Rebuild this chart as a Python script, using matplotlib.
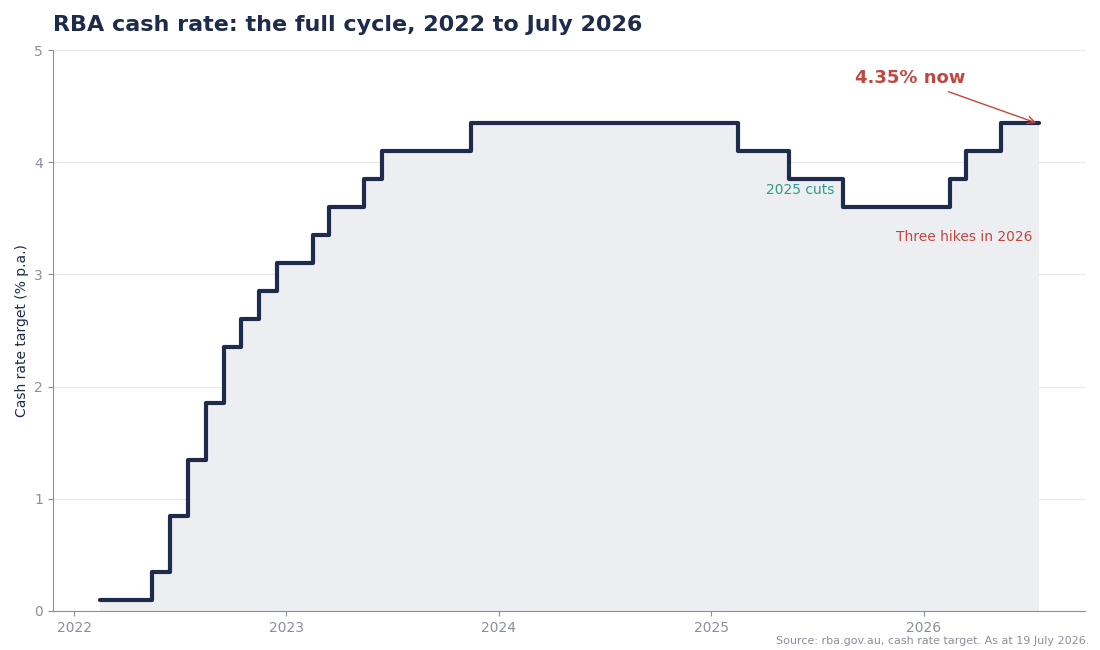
import numpy as np
import pandas as pd
import matplotlib.pyplot as plt
import matplotlib.dates as mdates

# RBA cash rate decisions (mid-month) and target rate, % p.a.
dates = ['2022-02-15', '2022-05-15', '2022-06-15', '2022-07-15', '2022-08-15',
         '2022-09-15', '2022-10-15', '2022-11-15', '2022-12-15', '2023-02-15',
         '2023-03-15', '2023-05-15', '2023-06-15', '2023-11-15', '2025-02-15',
         '2025-05-15', '2025-08-15', '2026-02-15', '2026-03-15', '2026-05-15',
         '2026-07-19']
rates = [0.10, 0.35, 0.85, 1.35, 1.85, 2.35, 2.60, 2.85, 3.10, 3.35,
         3.60, 3.85, 4.10, 4.35, 4.10, 3.85, 3.60, 3.85, 4.10, 4.35, 4.35]
years = [2022, 2023, 2024, 2025, 2026]

navy = '#1e2b4a'
grey = '#8a8f9c'
red = '#c0473f'
teal = '#2e9c8a'

d = pd.to_datetime(dates)
fig = plt.figure(figsize=(11, 6.5), dpi=100)
ax = fig.add_axes([0.048, 0.06, 0.938, 0.863])

ax.fill_between(d, rates, 0, step='post', color='#eceef1', lw=0)
ax.step(d, rates, where='post', color=navy, lw=3, solid_joinstyle='round',
        solid_capstyle='round')

ax.set_ylim(0, 5)
ax.set_xlim(pd.Timestamp('2021-11-25'), pd.Timestamp('2026-10-05'))
ax.set_xticks([pd.Timestamp(f'{y}-01-01') for y in years])
ax.xaxis.set_major_formatter(mdates.DateFormatter('%Y'))
ax.set_yticks(range(0, 6))
ax.grid(axis='y', color='#e6e7ea', lw=0.8)
ax.set_axisbelow(True)
for s in ['top', 'right']:
    ax.spines[s].set_visible(False)
for s in ['left', 'bottom']:
    ax.spines[s].set_color(grey)
ax.tick_params(colors=grey, labelsize=10)
ax.set_ylabel('Cash rate target (% p.a.)', color=navy, fontsize=10)

fig.text(0.048, 0.962, 'RBA cash rate: the full cycle, 2022 to July 2026',
         fontsize=16, fontweight='bold', color=navy, va='center')

ax.annotate('4.35% now', xy=(d[-1] - pd.Timedelta(days=5), rates[-1]),
            xytext=(pd.Timestamp('2025-09-05'), 4.75), fontsize=13,
            fontweight='bold', color=red, va='center',
            arrowprops=dict(arrowstyle='->', color=red, lw=1,
                            shrinkA=4, shrinkB=0))
ax.text(pd.Timestamp('2025-04-05'), 3.75, '2025 cuts', color=teal,
        fontsize=10, va='center')
ax.text(pd.Timestamp('2026-07-08'), 3.33, 'Three hikes in 2026', color=red,
        fontsize=10, va='center', ha='right')
fig.text(0.99, 0.01, 'Source: rba.gov.au, cash rate target. As at 19 July 2026.',
         color=grey, fontsize=8, ha='right')

fig.savefig('out.png')
